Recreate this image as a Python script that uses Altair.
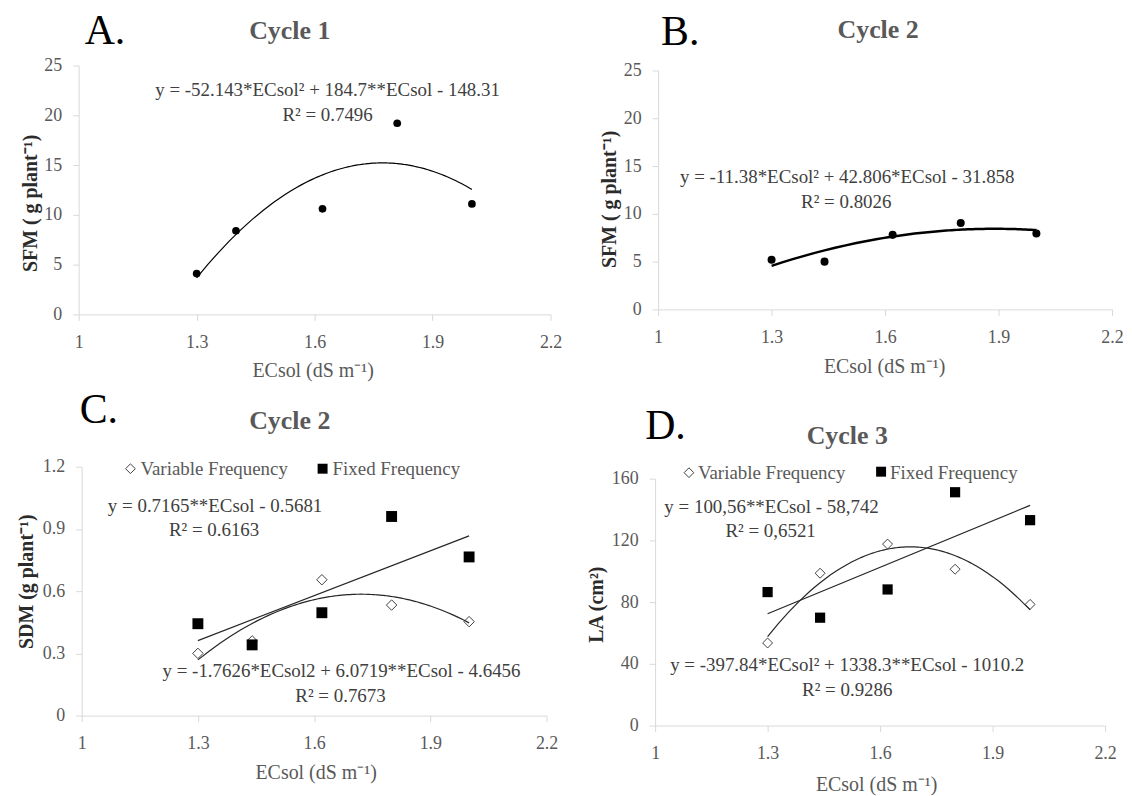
import altair as alt
import pandas as pd

# ---------------- data ----------------
ec_cycle1 = [1.3, 1.4, 1.62, 1.81, 2.0]
sfm_cycle1 = [4.1, 8.4, 10.6, 19.2, 11.1]

ec_levels = [1.3, 1.44, 1.62, 1.8, 2.0]
sfm_cycle2 = [5.2, 5.0, 7.8, 9.05, 7.95]

sdm_variable = [0.30, 0.36, 0.655, 0.533, 0.453]
sdm_fixed = [0.443, 0.341, 0.496, 0.96, 0.765]

la_variable = [53.5, 98.7, 117.6, 101.3, 78.5]
la_fixed = [86.5, 69.9, 88.2, 151.2, 133.1]

x_ticks = [1, 1.3, 1.6, 1.9, 2.2]
sfm_ticks = [0, 5, 10, 15, 20, 25]
sdm_ticks = [0, 0.3, 0.6, 0.9, 1.2]
la_ticks = [0, 40, 80, 120, 160]

SERIF = "Liberation Serif"
GRAY = "#595959"
TXT = "#404040"
AXIS_GRAY = "#d9d9d9"


def x_axis(title_x, title_y, offset=0):
    return alt.Axis(
        values=x_ticks, format="~r", title="ECsol (dS m⁻¹)", grid=False,
        domainColor=AXIS_GRAY, tickColor=AXIS_GRAY, tickSize=6,
        labelFont=SERIF, labelFontSize=18, labelColor=GRAY,
        labelBaseline="alphabetic", labelPadding=27, labelAlign="center",
        labelFlush=False, labelOverlap=False,
        titleFont=SERIF, titleFontSize=20, titleFontWeight="normal", titleColor=GRAY,
        titleX=title_x, titleY=title_y, titleBaseline="alphabetic", titleAlign="center",
        offset=offset,
    )


def y_axis(values, title, title_x, title_y, offset=0):
    return alt.Axis(
        values=values, format="~r", title=title, grid=False,
        domainColor=AXIS_GRAY, tickColor=AXIS_GRAY, tickSize=6,
        labelFont=SERIF, labelFontSize=18, labelColor=GRAY, labelPadding=11,
        labelOverlap=False,
        titleFont=SERIF, titleFontSize=20, titleFontWeight="bold", titleColor="#2b2b2b",
        titleAngle=270, titleX=title_x, titleY=title_y, titleBaseline="middle",
        titleAlign="center", offset=offset,
    )


def text(t, x, y, size=19, weight="normal", color=TXT, align="center"):
    return alt.Chart(pd.DataFrame({"t": [t]})).mark_text(
        align=align, baseline="alphabetic", font=SERIF, fontSize=size,
        fontWeight=weight, color=color,
    ).encode(x=alt.value(x), y=alt.value(y), text="t:N")


def legend_symbol(shape, x, y):
    one = pd.DataFrame({"k": [0]})
    if shape == "diamond":
        m = alt.Chart(one).mark_point(shape="diamond", size=95, fill="white", fillOpacity=1,
                                      stroke="#404040", strokeWidth=1, opacity=1)
    else:
        m = alt.Chart(one).mark_square(size=100, color="black", opacity=1)
    return m.encode(x=alt.value(x), y=alt.value(y))


def headers(letter, lx, ly, cycle, cx, cy):
    return [
        text(letter, lx, ly, size=42, color="black", align="left"),
        text(cycle, cx, cy, size=26, weight="bold", color=GRAY),
    ]


# ---------------- panel A ----------------
df_a = pd.DataFrame({"ec": ec_cycle1, "val": sfm_cycle1})
xa = alt.X("ec:Q", scale=alt.Scale(domain=[1, 2.2], range=[0, 474], nice=False, zero=False),
           axis=x_axis(235, 62))
ya = alt.Y("val:Q", scale=alt.Scale(domain=[0, 25], range=[250, 0], nice=False),
           axis=y_axis(sfm_ticks, "SFM ( g plant⁻¹)", -48, 138))
pts_a = alt.Chart(df_a).mark_circle(size=60, color="black", opacity=1).encode(x=xa, y=ya)
fit_a = alt.Chart(df_a).transform_regression("ec", "val", method="poly", order=2).mark_line(
    color="black", strokeWidth=1.2).encode(x=xa, y=ya)
panel_a = alt.layer(
    pts_a, fit_a,
    *headers("A.", 6, -22, "Cycle 1", 212, -27),
    text("y = -52.143*ECsol² + 184.7**ECsol - 148.31", 250, 31),
    text("R² = 0.7496", 250, 56),
).properties(width=474, height=250)

# ---------------- panel B ----------------
df_b = pd.DataFrame({"ec": ec_levels, "val": sfm_cycle2})
xb = alt.X("ec:Q", scale=alt.Scale(domain=[1, 2.2], range=[3, 459], nice=False, zero=False),
           axis=x_axis(230, 63, offset=-5))
yb = alt.Y("val:Q", scale=alt.Scale(domain=[0, 25], range=[245, 5], nice=False),
           axis=y_axis(sfm_ticks, "SFM ( g plant⁻¹)", -49, 134, offset=-3))
pts_b = alt.Chart(df_b).mark_circle(size=65, color="black", opacity=1).encode(x=xb, y=yb)
fit_b = alt.Chart(df_b).transform_regression("ec", "val", method="poly", order=2).mark_line(
    color="black", strokeWidth=2.5).encode(x=xb, y=yb)
panel_b = alt.layer(
    pts_b, fit_b,
    *headers("B.", 6, -21, "Cycle 2", 224, -28),
    text("y = -11.38*ECsol² + 42.806*ECsol - 31.858", 193, 118),
    text("R² = 0.8026", 192, 143),
).properties(width=459, height=250)

# ---------------- panel C ----------------
df_cv = pd.DataFrame({"ec": ec_levels, "val": sdm_variable})
df_cf = pd.DataFrame({"ec": ec_levels, "val": sdm_fixed})
xc = alt.X("ec:Q", scale=alt.Scale(domain=[1, 2.2], range=[3, 470], nice=False, zero=False),
           axis=x_axis(238, 63))
yc = alt.Y("val:Q", scale=alt.Scale(domain=[0, 1.2], range=[250, 0], nice=False),
           axis=y_axis(sdm_ticks, "SDM (g plant⁻¹)", -55, 115, offset=-3))
dia_c = alt.Chart(df_cv).mark_point(shape="diamond", size=110, fill="white", fillOpacity=1,
                                    stroke="#404040", strokeWidth=1, opacity=1).encode(x=xc, y=yc)
sq_c = alt.Chart(df_cf).mark_square(size=120, color="black", opacity=1).encode(x=xc, y=yc)
lin_c = alt.Chart(df_cf).transform_regression("ec", "val").mark_line(
    color="#262626", strokeWidth=1.2).encode(x=xc, y=yc)
quad_c = alt.Chart(df_cv).transform_regression("ec", "val", method="poly", order=2).mark_line(
    color="#262626", strokeWidth=1.2).encode(x=xc, y=yc)
panel_c = alt.layer(
    dia_c, sq_c, lin_c, quad_c,
    *headers("C.", 1, -44, "Cycle 2", 212, -38),
    legend_symbol("diamond", 52, 2),
    text("Variable Frequency", 62, 8, color=GRAY, align="left"),
    legend_symbol("square", 245, 2),
    text("Fixed Frequency", 255, 8, color=GRAY, align="left"),
    text("y = 0.7165**ECsol - 0.5681", 137, 45),
    text("R² = 0.6163", 136, 70),
    text("y = -1.7626*ECsol2 + 6.0719**ECsol  - 4.6456", 264, 211),
    text("R² = 0.7673", 263, 236),
).properties(width=474, height=250)

# ---------------- panel D ----------------
df_dv = pd.DataFrame({"ec": ec_levels, "val": la_variable})
df_df = pd.DataFrame({"ec": ec_levels, "val": la_fixed})
xd = alt.X("ec:Q", scale=alt.Scale(domain=[1, 2.2], range=[0, 452], nice=False, zero=False),
           axis=x_axis(222, 65))
yd = alt.Y("val:Q", scale=alt.Scale(domain=[0, 160], range=[260, 12], nice=False),
           axis=y_axis(la_ticks, "LA (cm²)", -59, 138))
dia_d = alt.Chart(df_dv).mark_point(shape="diamond", size=100, fill="white", fillOpacity=1,
                                    stroke="#404040", strokeWidth=1, opacity=1).encode(x=xd, y=yd)
sq_d = alt.Chart(df_df).mark_square(size=105, color="black", opacity=1).encode(x=xd, y=yd)
lin_d = alt.Chart(df_df).transform_regression("ec", "val").mark_line(
    color="#262626", strokeWidth=1.2).encode(x=xd, y=yd)
quad_d = alt.Chart(df_dv).transform_regression("ec", "val", method="poly", order=2).mark_line(
    color="#262626", strokeWidth=1.2).encode(x=xd, y=yd)
panel_d = alt.layer(
    dia_d, sq_d, lin_d, quad_d,
    *headers("D.", -10, -28, "Cycle 3", 193, -23),
    legend_symbol("diamond", 34, 6),
    text("Variable Frequency", 43, 12, color=GRAY, align="left"),
    legend_symbol("square", 227, 5),
    text("Fixed Frequency", 236, 12, color=GRAY, align="left"),
    text("y = 100,56**ECsol - 58,742", 117, 46),
    text("R² = 0,6521", 116, 71),
    text("y = -397.84*ECsol² + 1338.3**ECsol - 1010.2", 193, 205),
    text("R² = 0.9286", 193, 230),
).properties(width=459, height=260)

chart = alt.concat(
    panel_a, panel_b, panel_c, panel_d,
    columns=2, spacing={"row": 153, "column": 105}, bounds="flush", align="each",
).properties(
    padding={"left": 9, "top": 0, "right": 0, "bottom": 0}, background="white"
).configure_view(strokeWidth=0)

chart.save("out.html", embed_options={"renderer": "svg", "actions": False})
